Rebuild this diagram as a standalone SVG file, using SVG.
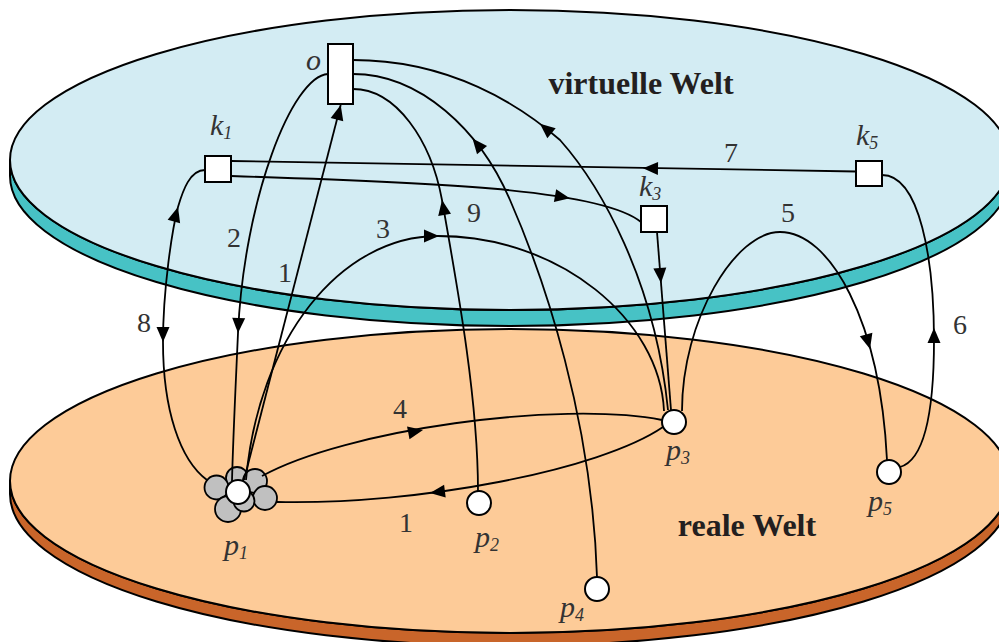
<svg xmlns="http://www.w3.org/2000/svg" width="999" height="642" viewBox="0 0 999 642">
<defs>
<style>
.plate{stroke:#000;stroke-width:2}
.edge{fill:none;stroke:#000;stroke-width:1.8}
.node{fill:#fff;stroke:#000;stroke-width:2}
.petal{fill:#C0C0C0;stroke:#000;stroke-width:1.8}
.lbl{font-family:"Liberation Serif","Times New Roman",serif;font-style:italic;font-size:30px;fill:#333}
.sub{font-size:18px}
.num{font-family:"Liberation Serif","Times New Roman",serif;font-size:28px;fill:#333}
.title{font-family:"Liberation Serif","Times New Roman",serif;font-weight:bold;font-size:32px;fill:#231f20}
</style>
<path id="ah" d="M0,0 L-15,-6.5 L-15,6.5 Z" fill="#000"/>
</defs>
<rect width="999" height="642" fill="#fff"/>

<g id="plate-real">
<path class="plate" fill="#C9652A" d="M10,481 A500,152 0 0 0 1010,481 L1010,494 A500,152 0 0 1 10,494 Z"/>
<ellipse class="plate" fill="#FDCB98" cx="510" cy="481" rx="500" ry="152"/>
<text class="title" x="747" y="536" text-anchor="middle">reale Welt</text>
</g>

<g id="plate-virtual">
<path class="plate" fill="#47C2C5" d="M10,160 A500,150 0 0 0 1010,160 L1010,176 A500,150 0 0 1 10,176 Z"/>
<ellipse class="plate" fill="#D3ECF3" cx="510" cy="160" rx="500" ry="150"/>
<text class="title" x="641" y="94" text-anchor="middle">virtuelle Welt</text>
</g>

<g id="p1-cluster">
<circle class="petal" cx="237" cy="478" r="11"/>
<circle class="petal" cx="255" cy="481" r="12"/>
<circle class="petal" cx="216.5" cy="487.5" r="12"/>
<circle class="petal" cx="228" cy="509" r="13"/>
<circle class="petal" cx="265" cy="498" r="12"/>
<circle class="petal" cx="244" cy="501" r="10.5"/>
</g>

<g id="connectors">
<g class="edge">
<path d="M244,480 L340.7,105"/>
<path d="M328,74 C292,76 244,200 238,333 C235,400 233,440 232,481"/>
<path d="M246,480 C258,340 340,236 438,236 C560,236 660,320 664,411"/>
<path d="M262,476 C345,430 560,400 662,420"/>
<path d="M663,427 C600,470 420,505 277,502"/>
<path d="M682,411 C682,320 735,232 780,232 C830,232 880,320 887,460"/>
<path d="M900,467 C925,460 934,410 934,340 C934,260 920,175 882,175"/>
<path d="M856,171.5 L231,161"/>
<path d="M231,176 C420,182 600,188 641,222"/>
<path d="M657,232 L671,410"/>
<path d="M205,170 C190,170 183,190 178,207 C172,230 163,290 163,342 C163,410 180,460 207,480"/>
<path d="M478,491 C478,400 458,290 442,200 C431,140 396,89 353,89"/>
<path d="M597,577 C592,420 545,280 510,200 C480,130 420,74 353,74"/>
<path d="M668,410 C655,280 600,185 560,140 C520,105 450,60 353,60"/>
</g>
<use href="#ah" transform="translate(340.7,105) rotate(-75.5)"/>
<use href="#ah" transform="translate(238,333) rotate(92.6)"/>
<use href="#ah" transform="translate(439,236) rotate(0)"/>
<use href="#ah" transform="translate(423,430) rotate(-11)"/>
<use href="#ah" transform="translate(430,493) rotate(173)"/>
<use href="#ah" transform="translate(870,349) rotate(75)"/>
<use href="#ah" transform="translate(934,328) rotate(-90)"/>
<use href="#ah" transform="translate(643,168.3) rotate(181)"/>
<use href="#ah" transform="translate(569.8,198.2) rotate(10)"/>
<use href="#ah" transform="translate(661,283) rotate(85.5)"/>
<use href="#ah" transform="translate(178,207) rotate(-74)"/>
<use href="#ah" transform="translate(163,342) rotate(90)"/>
<use href="#ah" transform="translate(442,200) rotate(-100)"/>
<use href="#ah" transform="translate(472.5,138.5) rotate(-129.5)"/>
<use href="#ah" transform="translate(540,123.7) rotate(-140)"/>
<g class="num" text-anchor="middle">
<text x="731" y="162">7</text>
<text x="788" y="222">5</text>
<text x="960" y="334">6</text>
<text x="144" y="332">8</text>
<text x="234" y="247">2</text>
<text x="285" y="282">1</text>
<text x="383" y="238">3</text>
<text x="474" y="222">9</text>
<text x="400" y="418">4</text>
<text x="406" y="532">1</text>
</g>
</g>

<g id="node-o">
<rect class="node" x="328" y="44" width="25" height="60"/>
<text class="lbl" x="306" y="70">o</text>
</g>
<g id="node-k1">
<rect class="node" x="205" y="156" width="26" height="26"/>
<text class="lbl" x="210" y="135">k<tspan class="sub" dy="4">1</tspan></text>
</g>
<g id="node-k3">
<rect class="node" x="641" y="206" width="26" height="26"/>
<text class="lbl" x="639" y="196">k<tspan class="sub" dy="4">3</tspan></text>
</g>
<g id="node-k5">
<rect class="node" x="856" y="161" width="26" height="25"/>
<text class="lbl" x="856" y="145">k<tspan class="sub" dy="4">5</tspan></text>
</g>
<g id="node-p1">
<circle class="node" cx="238" cy="492" r="12"/>
<text class="lbl" x="224" y="555">p<tspan class="sub" dy="4">1</tspan></text>
</g>
<g id="node-p2">
<circle class="node" cx="479" cy="503" r="12"/>
<text class="lbl" x="475" y="547">p<tspan class="sub" dy="4">2</tspan></text>
</g>
<g id="node-p3">
<circle class="node" cx="674" cy="422" r="12"/>
<text class="lbl" x="666" y="460">p<tspan class="sub" dy="4">3</tspan></text>
</g>
<g id="node-p4">
<circle class="node" cx="597" cy="589" r="12"/>
<text class="lbl" x="560" y="617">p<tspan class="sub" dy="4">4</tspan></text>
</g>
<g id="node-p5">
<circle class="node" cx="889" cy="472" r="12"/>
<text class="lbl" x="868" y="511">p<tspan class="sub" dy="4">5</tspan></text>
</g>
</svg>
